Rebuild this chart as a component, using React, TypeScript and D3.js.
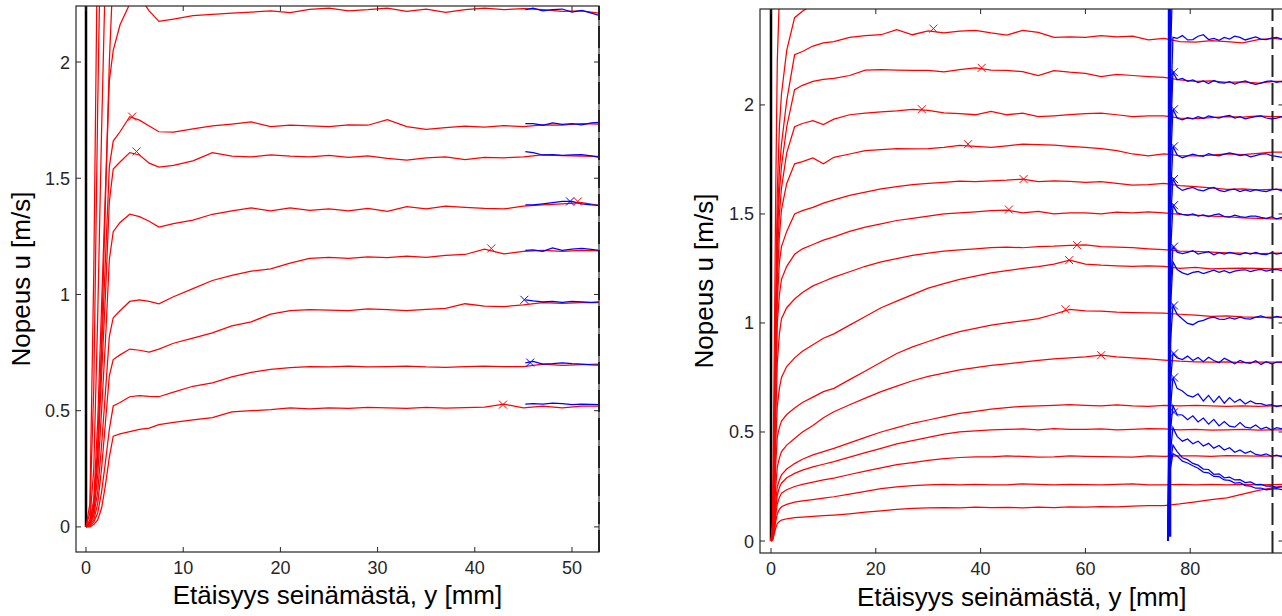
import React from "react";
import * as d3 from "d3";

// ---------------- LEFT PANEL DATA ----------------
const LX = [0, 0.4, 0.8, 1.2, 1.6, 2.0, 2.4, 2.8, 3.5, 4.5, 5.5, 6.5, 7.5, 9, 11, 13, 15, 17, 19, 21, 23, 25, 27, 29, 31, 33, 35, 37, 39, 41, 43, 45, 47, 49, 51, 52.8];
const L1 = [0, 0, 0.01, 0.03, 0.08, 0.18, 0.30, 0.39, 0.40, 0.41, 0.42, 0.425, 0.44, 0.45, 0.46, 0.47, 0.495, 0.50, 0.505, 0.512, 0.508, 0.512, 0.510, 0.514, 0.512, 0.510, 0.514, 0.511, 0.513, 0.515, 0.528, 0.512, 0.52, 0.512, 0.52, 0.52];
const L2 = [0, 0.005, 0.02, 0.06, 0.15, 0.28, 0.42, 0.52, 0.535, 0.56, 0.565, 0.562, 0.56, 0.58, 0.605, 0.62, 0.645, 0.665, 0.678, 0.685, 0.69, 0.688, 0.692, 0.688, 0.69, 0.692, 0.688, 0.686, 0.69, 0.692, 0.69, 0.69, 0.70, 0.695, 0.698, 0.70];
const L3 = [0, 0.01, 0.03, 0.10, 0.25, 0.45, 0.65, 0.72, 0.74, 0.765, 0.76, 0.752, 0.765, 0.79, 0.812, 0.835, 0.865, 0.882, 0.915, 0.93, 0.935, 0.933, 0.93, 0.938, 0.935, 0.93, 0.936, 0.94, 0.96, 0.95, 0.948, 0.955, 0.965, 0.962, 0.965, 0.965];
const L4 = [0, 0.01, 0.05, 0.15, 0.35, 0.58, 0.82, 0.90, 0.93, 0.97, 0.977, 0.97, 0.96, 0.99, 1.025, 1.06, 1.082, 1.10, 1.11, 1.135, 1.155, 1.16, 1.155, 1.162, 1.158, 1.165, 1.16, 1.168, 1.172, 1.195, 1.175, 1.185, 1.19, 1.185, 1.19, 1.188];
const L5 = [0, 0.01, 0.06, 0.22, 0.50, 0.80, 1.15, 1.27, 1.31, 1.345, 1.335, 1.315, 1.29, 1.305, 1.32, 1.345, 1.36, 1.372, 1.36, 1.372, 1.362, 1.368, 1.36, 1.37, 1.358, 1.378, 1.368, 1.38, 1.375, 1.37, 1.368, 1.38, 1.385, 1.39, 1.395, 1.383];
const L6 = [0, 0.02, 0.08, 0.30, 0.65, 1.00, 1.40, 1.54, 1.57, 1.61, 1.60, 1.565, 1.548, 1.555, 1.575, 1.61, 1.595, 1.592, 1.60, 1.595, 1.592, 1.598, 1.59, 1.596, 1.585, 1.578, 1.588, 1.592, 1.58, 1.59, 1.588, 1.592, 1.60, 1.597, 1.595, 1.594];
const L7 = [0, 0.02, 0.10, 0.35, 0.75, 1.15, 1.55, 1.66, 1.70, 1.765, 1.75, 1.725, 1.70, 1.698, 1.712, 1.725, 1.733, 1.742, 1.722, 1.728, 1.725, 1.722, 1.73, 1.728, 1.752, 1.722, 1.71, 1.718, 1.724, 1.72, 1.726, 1.722, 1.73, 1.728, 1.735, 1.733];
const L8 = [0, 0.02, 0.12, 0.45, 0.95, 1.45, 1.92, 2.05, 2.16, 2.25, 2.28, 2.22, 2.175, 2.185, 2.20, 2.205, 2.21, 2.215, 2.22, 2.212, 2.226, 2.232, 2.22, 2.225, 2.232, 2.218, 2.228, 2.214, 2.225, 2.232, 2.225, 2.23, 2.225, 2.218, 2.22, 2.21];
const L9 = [0, 0.01, 0.08, 0.3, 0.8, 1.4, 2.0, 2.4, 2.7, 2.8, 2.85, 2.85, 2.86, 2.86, 2.87, 2.87, 2.87, 2.87, 2.87, 2.87, 2.87, 2.87, 2.87, 2.87, 2.87, 2.87, 2.87, 2.87, 2.87, 2.87, 2.87, 2.87, 2.87, 2.87, 2.87, 2.87];
const L10 = [0, 0.03, 0.25, 0.9, 1.7, 2.4, 2.8, 3.0, 3.1, 3.1, 3.1, 3.1, 3.1, 3.1, 3.1, 3.1, 3.1, 3.1, 3.1, 3.1, 3.1, 3.1, 3.1, 3.1, 3.1, 3.1, 3.1, 3.1, 3.1, 3.1, 3.1, 3.1, 3.1, 3.1, 3.1, 3.1];
const L11 = [0, 0.06, 0.6, 1.8, 2.8, 3.3, 3.4, 3.4, 3.4, 3.4, 3.4, 3.4, 3.4, 3.4, 3.4, 3.4, 3.4, 3.4, 3.4, 3.4, 3.4, 3.4, 3.4, 3.4, 3.4, 3.4, 3.4, 3.4, 3.4, 3.4, 3.4, 3.4, 3.4, 3.4, 3.4, 3.4];
const L12 = [0, 0.1, 1.1, 2.6, 3.5, 3.8, 3.9, 3.9, 3.9, 3.9, 3.9, 3.9, 3.9, 3.9, 3.9, 3.9, 3.9, 3.9, 3.9, 3.9, 3.9, 3.9, 3.9, 3.9, 3.9, 3.9, 3.9, 3.9, 3.9, 3.9, 3.9, 3.9, 3.9, 3.9, 3.9, 3.9];

const LBX = [45.2, 46, 47, 48, 49, 50, 51, 52, 52.8];
const LB1 = [0.528, 0.53, 0.528, 0.532, 0.53, 0.526, 0.528, 0.527, 0.526];
const LB2 = [0.706, 0.712, 0.700, 0.702, 0.706, 0.702, 0.700, 0.697, 0.696];
const LB3 = [0.977, 0.972, 0.968, 0.97, 0.966, 0.97, 0.968, 0.966, 0.968];
const LB4 = [1.19, 1.192, 1.185, 1.20, 1.19, 1.195, 1.198, 1.194, 1.19];
const LB5 = [1.385, 1.385, 1.39, 1.395, 1.40, 1.40, 1.39, 1.385, 1.383];
const LB6 = [1.615, 1.61, 1.60, 1.602, 1.598, 1.60, 1.602, 1.596, 1.59];
const LB7 = [1.735, 1.735, 1.728, 1.738, 1.732, 1.735, 1.73, 1.738, 1.74];
const LB8 = [2.225, 2.232, 2.22, 2.225, 2.228, 2.215, 2.222, 2.21, 2.20];

const L_RED_MARKS = [[4.75, 1.765], [5.2, 1.615], [41.7, 1.198], [42.9, 0.526], [50.6, 1.40]];
const L_BLUE_MARKS = [[45.7, 0.707], [45.1, 0.977], [49.8, 1.40]];

const L_XTICKS = [0, 10, 20, 30, 40, 50];
const L_YTICKS = [0, 0.5, 1, 1.5, 2];

// ---------------- RIGHT PANEL DATA ----------------
const RX = [0, 0.3, 0.6, 0.9, 1.2, 1.6, 2, 3, 4.5, 6, 8, 10, 12, 15, 18, 21, 24, 27, 30, 33, 36, 39, 42, 45, 48, 51, 54, 57, 60, 63, 66, 69, 72, 75, 78, 81, 84, 87, 90, 93, 96, 98];
const R0 = [0, 0.1, 0.8, 1.6, 2.2, 2.5, 2.62, 2.7, 2.75, 2.78, 2.8, 2.8, 2.8, 2.8, 2.8, 2.8, 2.8, 2.8, 2.8, 2.8, 2.8, 2.8, 2.8, 2.8, 2.8, 2.8, 2.8, 2.8, 2.8, 2.8, 2.8, 2.8, 2.8, 2.8, 2.8, 2.8, 2.8, 2.8, 2.8, 2.8, 2.8, 2.8];
const R1 = [0, 0.06, 0.5, 1.1, 1.6, 1.9, 2.05, 2.25, 2.40, 2.43, 2.46, 2.48, 2.50, 2.52, 2.53, 2.53, 2.54, 2.53, 2.54, 2.55, 2.54, 2.55, 2.54, 2.55, 2.55, 2.54, 2.55, 2.55, 2.54, 2.55, 2.55, 2.54, 2.55, 2.55, 2.54, 2.55, 2.55, 2.54, 2.55, 2.55, 2.54, 2.55];
const R2 = [0, 0.05, 0.4, 0.9, 1.45, 1.7, 1.82, 2.02, 2.23, 2.245, 2.27, 2.285, 2.29, 2.31, 2.318, 2.322, 2.345, 2.322, 2.34, 2.33, 2.338, 2.342, 2.33, 2.32, 2.342, 2.333, 2.31, 2.312, 2.31, 2.318, 2.312, 2.316, 2.298, 2.305, 2.29, 2.288, 2.295, 2.29, 2.285, 2.3, 2.305, 2.3];
const R3 = [0, 0.05, 0.4, 0.9, 1.4, 1.6, 1.72, 1.9, 2.07, 2.09, 2.108, 2.117, 2.122, 2.135, 2.16, 2.162, 2.16, 2.158, 2.158, 2.152, 2.162, 2.17, 2.16, 2.158, 2.153, 2.135, 2.157, 2.15, 2.145, 2.13, 2.14, 2.135, 2.13, 2.126, 2.115, 2.108, 2.11, 2.104, 2.106, 2.1, 2.108, 2.108];
const R4 = [0, 0.04, 0.35, 0.85, 1.3, 1.5, 1.62, 1.78, 1.9, 1.915, 1.928, 1.91, 1.935, 1.955, 1.962, 1.968, 1.973, 1.98, 1.975, 1.964, 1.96, 1.955, 1.97, 1.955, 1.962, 1.946, 1.95, 1.955, 1.96, 1.962, 1.955, 1.946, 1.95, 1.95, 1.94, 1.937, 1.942, 1.946, 1.944, 1.95, 1.946, 1.946];
const R5 = [0, 0.04, 0.3, 0.8, 1.2, 1.4, 1.52, 1.64, 1.73, 1.74, 1.757, 1.73, 1.76, 1.775, 1.79, 1.795, 1.80, 1.798, 1.80, 1.805, 1.815, 1.81, 1.805, 1.812, 1.82, 1.818, 1.816, 1.81, 1.805, 1.80, 1.79, 1.775, 1.766, 1.775, 1.768, 1.766, 1.77, 1.775, 1.772, 1.778, 1.784, 1.784];
const R6 = [0, 0.03, 0.28, 0.75, 1.1, 1.28, 1.35, 1.42, 1.50, 1.515, 1.53, 1.55, 1.565, 1.585, 1.60, 1.615, 1.625, 1.635, 1.64, 1.645, 1.65, 1.648, 1.652, 1.655, 1.66, 1.648, 1.652, 1.649, 1.645, 1.648, 1.64, 1.632, 1.635, 1.64, 1.63, 1.625, 1.62, 1.613, 1.615, 1.61, 1.613, 1.613];
const R7 = [0, 0.03, 0.25, 0.7, 1.0, 1.13, 1.2, 1.26, 1.315, 1.34, 1.36, 1.38, 1.395, 1.42, 1.44, 1.455, 1.47, 1.48, 1.49, 1.50, 1.505, 1.51, 1.515, 1.518, 1.505, 1.512, 1.50, 1.505, 1.505, 1.50, 1.508, 1.505, 1.51, 1.505, 1.498, 1.495, 1.49, 1.488, 1.482, 1.48, 1.477, 1.477];
const R8 = [0, 0.03, 0.22, 0.55, 0.82, 0.95, 1.02, 1.07, 1.11, 1.14, 1.17, 1.19, 1.21, 1.235, 1.26, 1.28, 1.295, 1.31, 1.32, 1.33, 1.335, 1.34, 1.345, 1.348, 1.345, 1.35, 1.352, 1.356, 1.358, 1.35, 1.348, 1.345, 1.34, 1.336, 1.33, 1.328, 1.325, 1.322, 1.32, 1.318, 1.32, 1.32];
const R9 = [0, 0.02, 0.18, 0.45, 0.62, 0.70, 0.75, 0.80, 0.84, 0.87, 0.90, 0.93, 0.95, 0.99, 1.03, 1.07, 1.10, 1.13, 1.16, 1.18, 1.20, 1.215, 1.23, 1.24, 1.25, 1.258, 1.27, 1.288, 1.27, 1.265, 1.262, 1.26, 1.262, 1.26, 1.25, 1.255, 1.248, 1.25, 1.252, 1.25, 1.248, 1.25];
const R10 = [0, 0.02, 0.15, 0.35, 0.48, 0.52, 0.55, 0.58, 0.61, 0.635, 0.66, 0.685, 0.70, 0.74, 0.78, 0.82, 0.86, 0.89, 0.915, 0.94, 0.96, 0.975, 0.99, 1.0, 1.01, 1.02, 1.04, 1.062, 1.055, 1.054, 1.05, 1.048, 1.046, 1.045, 1.04, 1.036, 1.03, 1.032, 1.028, 1.026, 1.027, 1.027];
const R11 = [0, 0.02, 0.1, 0.25, 0.34, 0.38, 0.41, 0.44, 0.47, 0.50, 0.53, 0.565, 0.593, 0.625, 0.655, 0.685, 0.71, 0.735, 0.755, 0.77, 0.785, 0.795, 0.805, 0.812, 0.82, 0.828, 0.835, 0.84, 0.845, 0.852, 0.845, 0.84, 0.835, 0.83, 0.825, 0.822, 0.82, 0.822, 0.818, 0.82, 0.82, 0.818];
const R12 = [0, 0.01, 0.07, 0.18, 0.25, 0.28, 0.303, 0.33, 0.355, 0.375, 0.395, 0.41, 0.425, 0.45, 0.475, 0.50, 0.52, 0.54, 0.555, 0.57, 0.585, 0.595, 0.605, 0.612, 0.618, 0.62, 0.622, 0.625, 0.622, 0.62, 0.624, 0.62, 0.618, 0.622, 0.62, 0.622, 0.62, 0.618, 0.62, 0.618, 0.62, 0.62];
const R13 = [0, 0.01, 0.06, 0.15, 0.21, 0.245, 0.265, 0.29, 0.31, 0.325, 0.34, 0.352, 0.364, 0.385, 0.405, 0.425, 0.445, 0.46, 0.475, 0.49, 0.50, 0.505, 0.51, 0.512, 0.514, 0.51, 0.515, 0.512, 0.512, 0.514, 0.51, 0.512, 0.515, 0.514, 0.51, 0.512, 0.508, 0.51, 0.512, 0.508, 0.51, 0.51];
const R14 = [0, 0.01, 0.05, 0.12, 0.17, 0.2, 0.219, 0.235, 0.25, 0.26, 0.27, 0.28, 0.288, 0.305, 0.32, 0.335, 0.35, 0.36, 0.37, 0.378, 0.383, 0.386, 0.386, 0.39, 0.388, 0.385, 0.386, 0.39, 0.388, 0.387, 0.386, 0.385, 0.39, 0.388, 0.39, 0.391, 0.388, 0.392, 0.39, 0.389, 0.39, 0.391];
const R15 = [0, 0.005, 0.04, 0.09, 0.125, 0.145, 0.157, 0.168, 0.178, 0.184, 0.19, 0.197, 0.203, 0.215, 0.228, 0.24, 0.248, 0.254, 0.257, 0.26, 0.258, 0.26, 0.257, 0.258, 0.262, 0.26, 0.258, 0.26, 0.259, 0.258, 0.26, 0.262, 0.258, 0.258, 0.26, 0.258, 0.26, 0.258, 0.26, 0.258, 0.259, 0.26];
const R16 = [0, 0.005, 0.03, 0.06, 0.08, 0.09, 0.096, 0.102, 0.107, 0.11, 0.113, 0.116, 0.119, 0.125, 0.132, 0.138, 0.145, 0.15, 0.152, 0.153, 0.152, 0.155, 0.153, 0.154, 0.152, 0.155, 0.153, 0.156, 0.155, 0.158, 0.157, 0.16, 0.162, 0.162, 0.17, 0.18, 0.19, 0.198, 0.215, 0.232, 0.245, 0.252];

// thick blue wall line (second wall), then the blue profiles measured from it
const R_BLUE_WALL_X = [76.05, 76.05];
const R_BLUE_WALL_U = [0.02, 2.6];
const RBX = [75.8, 76.2, 76.7, 77.5, 78.5, 79.5, 80.5, 81.5, 82.5, 83.5, 84.5, 85.5, 86.5, 87.5, 88.5, 89.5, 90.5, 91.5, 92.5, 93.5, 94.5, 95.5, 96.5, 97.5, 98.5];
const RB1 = [0, 2.2, 2.6, 2.6, 2.6, 2.6, 2.6, 2.6, 2.6, 2.6, 2.6, 2.6, 2.6, 2.6, 2.6, 2.6, 2.6, 2.6, 2.6, 2.6, 2.6, 2.6, 2.6, 2.6, 2.6];
const RB2 = [0, 1.9, 2.31, 2.305, 2.318, 2.298, 2.30, 2.315, 2.322, 2.30, 2.305, 2.296, 2.31, 2.302, 2.315, 2.31, 2.298, 2.305, 2.312, 2.302, 2.30, 2.307, 2.31, 2.302, 2.30];
const RB3 = [0, 1.8, 2.15, 2.115, 2.122, 2.108, 2.115, 2.103, 2.11, 2.098, 2.112, 2.102, 2.1, 2.107, 2.096, 2.104, 2.11, 2.1, 2.094, 2.1, 2.108, 2.11, 2.104, 2.108, 2.1];
const RB4 = [0, 1.7, 1.98, 1.94, 1.932, 1.942, 1.936, 1.946, 1.938, 1.95, 1.944, 1.94, 1.948, 1.952, 1.94, 1.946, 1.936, 1.942, 1.946, 1.95, 1.94, 1.936, 1.94, 1.946, 1.94];
const RB5 = [0, 1.55, 1.81, 1.77, 1.758, 1.766, 1.774, 1.768, 1.764, 1.777, 1.77, 1.766, 1.774, 1.78, 1.774, 1.768, 1.772, 1.762, 1.768, 1.774, 1.776, 1.768, 1.764, 1.76, 1.77];
const RB6 = [0, 1.45, 1.66, 1.625, 1.608, 1.616, 1.622, 1.61, 1.606, 1.616, 1.622, 1.608, 1.603, 1.61, 1.614, 1.603, 1.61, 1.604, 1.612, 1.606, 1.603, 1.61, 1.614, 1.606, 1.61];
const RB7 = [0, 1.3, 1.54, 1.505, 1.498, 1.494, 1.5, 1.49, 1.496, 1.488, 1.496, 1.5, 1.488, 1.486, 1.494, 1.488, 1.484, 1.49, 1.49, 1.484, 1.48, 1.486, 1.478, 1.484, 1.48];
const RB8 = [0, 1.15, 1.35, 1.325, 1.318, 1.324, 1.332, 1.316, 1.322, 1.327, 1.313, 1.322, 1.316, 1.324, 1.318, 1.314, 1.322, 1.316, 1.324, 1.316, 1.313, 1.322, 1.316, 1.32, 1.32];
const RB9 = [0, 1.05, 1.28, 1.245, 1.23, 1.222, 1.232, 1.236, 1.226, 1.234, 1.242, 1.232, 1.24, 1.23, 1.238, 1.242, 1.244, 1.236, 1.242, 1.246, 1.238, 1.244, 1.246, 1.24, 1.24];
const RB10 = [0, 0.9, 1.08, 1.04, 1.018, 0.998, 0.992, 1.006, 1.012, 1.022, 1.027, 1.018, 1.016, 1.024, 1.018, 1.027, 1.02, 1.018, 1.027, 1.032, 1.024, 1.022, 1.03, 1.024, 1.025];
const RB11 = [0, 0.72, 0.86, 0.84, 0.832, 0.848, 0.828, 0.842, 0.822, 0.843, 0.828, 0.818, 0.838, 0.826, 0.813, 0.828, 0.818, 0.815, 0.827, 0.81, 0.822, 0.813, 0.82, 0.822, 0.815];
const RB12 = [0, 0.6, 0.75, 0.70, 0.688, 0.668, 0.66, 0.675, 0.642, 0.668, 0.636, 0.664, 0.632, 0.658, 0.636, 0.65, 0.628, 0.642, 0.63, 0.63, 0.622, 0.625, 0.616, 0.622, 0.615];
const RB13 = [0, 0.5, 0.62, 0.58, 0.578, 0.556, 0.574, 0.546, 0.564, 0.536, 0.558, 0.528, 0.548, 0.527, 0.522, 0.543, 0.522, 0.518, 0.532, 0.513, 0.522, 0.51, 0.52, 0.514, 0.51];
const RB14 = [0, 0.4, 0.52, 0.48, 0.458, 0.468, 0.446, 0.458, 0.436, 0.448, 0.426, 0.438, 0.417, 0.428, 0.407, 0.418, 0.402, 0.412, 0.397, 0.393, 0.4, 0.388, 0.394, 0.386, 0.39];
const RB15 = [0, 0.35, 0.44, 0.41, 0.382, 0.373, 0.356, 0.348, 0.33, 0.328, 0.306, 0.308, 0.29, 0.293, 0.28, 0.281, 0.268, 0.271, 0.259, 0.26, 0.252, 0.253, 0.246, 0.248, 0.245];
const RB16 = [0, 0.33, 0.40, 0.39, 0.366, 0.358, 0.345, 0.334, 0.316, 0.313, 0.296, 0.295, 0.28, 0.278, 0.266, 0.268, 0.254, 0.252, 0.242, 0.243, 0.235, 0.238, 0.24, 0.236, 0.236];

const R_RED_MARKS = [[31.0, 2.35], [40.2, 2.17], [28.8, 1.98], [37.6, 1.82], [48.2, 1.66], [45.4, 1.52], [58.4, 1.357], [56.9, 1.288], [56.2, 1.063], [63.0, 0.852]];
const R_BLUE_MARKS = [[76.9, 2.15], [76.9, 1.98], [76.9, 1.81], [76.9, 1.66], [76.9, 1.54], [76.9, 1.35], [76.9, 1.08], [76.9, 0.86], [76.9, 0.75], [76.9, 0.59]];

const R_XTICKS = [0, 20, 40, 60, 80];
const R_YTICKS = [0, 0.5, 1, 1.5, 2];

const FONT = "Arial, 'Liberation Sans', Helvetica, sans-serif";
const AXIS = "#262626";

type PanelProps = {
  id: string;
  box: { l: number; r: number; t: number; b: number };
  xd: [number, number];
  yd: [number, number];
  xTicks: number[];
  yTicks: number[];
  redX: number[];
  reds: number[][];
  blueX: number[];
  blues: number[][];
  wallX?: number[];
  wallU?: number[];
  redMarks: number[][];
  blueMarks: number[][];
  dashX: number;
  yLabelBase: number;
  xLabelBase: number;
};

function Cross({ x, y, color }: { x: number; y: number; color: string }) {
  const s = 4;
  return (
    <path
      d={`M${x - s},${y - s}L${x + s},${y + s}M${x - s},${y + s}L${x + s},${y - s}`}
      stroke={color}
      strokeWidth={1}
      fill="none"
    />
  );
}

function Panel(p: PanelProps) {
  const { box } = p;
  const xs = d3.scaleLinear().domain(p.xd).range([box.l, box.r]);
  const ys = d3.scaleLinear().domain(p.yd).range([box.b, box.t]);
  const mk = (X: number[]) =>
    d3
      .line<number>()
      .x((_, i) => xs(X[i]))
      .y((d) => ys(d));
  const redLine = mk(p.redX);
  const blueLine = mk(p.blueX);
  const tl = 5;
  const yMid = (box.t + box.b) / 2;
  const xMid = (box.l + box.r) / 2;
  return (
    <g>
      <defs>
        <clipPath id={p.id}>
          <rect x={box.l} y={box.t} width={box.r - box.l} height={box.b - box.t} />
        </clipPath>
      </defs>
      <g clipPath={`url(#${p.id})`}>
        <line x1={xs(0)} x2={xs(0)} y1={ys(0)} y2={box.t} stroke="#000" strokeWidth={2.5} />
        {p.reds.map((c, i) => (
          <path key={"r" + i} d={redLine(c.slice(0, p.redX.length)) || ""} fill="none" stroke="#ff0000" strokeWidth={1.25} />
        ))}
        {p.wallX && p.wallU ? (
          <path d={mk(p.wallX)(p.wallU) || ""} fill="none" stroke="#0000ff" strokeWidth={3.5} />
        ) : null}
        {p.blues.map((c, i) => (
          <path key={"b" + i} d={blueLine(c.slice(0, p.blueX.length)) || ""} fill="none" stroke="#0000ff" strokeWidth={1.25} />
        ))}
        {p.redMarks.map((m, i) => (
          <Cross key={"rm" + i} x={xs(m[0])} y={ys(m[1])} color="#ff0000" />
        ))}
        {p.blueMarks.map((m, i) => (
          <Cross key={"bm" + i} x={xs(m[0])} y={ys(m[1])} color="#0000ff" />
        ))}
      </g>
      <line
        x1={xs(p.dashX)}
        x2={xs(p.dashX)}
        y1={box.b}
        y2={box.t}
        stroke="#222"
        strokeWidth={2}
        strokeDasharray="22 6"
      />
      <rect x={box.l} y={box.t} width={box.r - box.l} height={box.b - box.t} fill="none" stroke={AXIS} strokeWidth={1.2} />
      {p.xTicks.map((t) => (
        <g key={"xt" + t}>
          <line x1={xs(t)} x2={xs(t)} y1={box.b} y2={box.b - tl} stroke={AXIS} />
          <line x1={xs(t)} x2={xs(t)} y1={box.t} y2={box.t + tl} stroke={AXIS} />
          <text x={xs(t)} y={box.b + 21.5} textAnchor="middle" fontFamily={FONT} fontSize={18} fill={AXIS}>
            {String(t)}
          </text>
        </g>
      ))}
      {p.yTicks.map((t) => (
        <g key={"yt" + t}>
          <line x1={box.l} x2={box.l + tl} y1={ys(t)} y2={ys(t)} stroke={AXIS} />
          <line x1={box.r} x2={box.r - tl} y1={ys(t)} y2={ys(t)} stroke={AXIS} />
          <text x={box.l - 6} y={ys(t) + 6.5} textAnchor="end" fontFamily={FONT} fontSize={18} fill={AXIS}>
            {String(t)}
          </text>
        </g>
      ))}
      <text
        transform={`translate(${p.yLabelBase},${yMid}) rotate(-90)`}
        textAnchor="middle"
        fontFamily={FONT}
        fontSize={26}
        fill="#000"
      >
        Nopeus u [m/s]
      </text>
      <text x={xMid} y={p.xLabelBase} textAnchor="middle" fontFamily={FONT} fontSize={26} fill="#000">
        Etäisyys seinämästä, y [mm]
      </text>
    </g>
  );
}

export default function App() {
  return (
    <svg width={1282} height={616} style={{ position: "absolute", left: 0, top: 0, background: "#fff" }}>
      <rect x={0} y={0} width={1282} height={616} fill="#fff" />
      <Panel
        id="clipL"
        box={{ l: 76, r: 599, t: 6, b: 552 }}
        xd={[-1.03, 52.78]}
        yd={[-0.108, 2.241]}
        xTicks={L_XTICKS}
        yTicks={L_YTICKS}
        redX={LX}
        reds={[L12, L11, L10, L9, L8, L7, L6, L5, L4, L3, L2, L1]}
        blueX={LBX}
        blues={[LB1, LB2, LB3, LB4, LB5, LB6, LB7, LB8]}
        redMarks={L_RED_MARKS}
        blueMarks={L_BLUE_MARKS}
        dashX={52.78}
        yLabelBase={30}
        xLabelBase={604}
      />
      <Panel
        id="clipR"
        box={{ l: 760, r: 1283.5, t: 9, b: 553 }}
        xd={[-2.1, 97.8]}
        yd={[-0.055, 2.44]}
        xTicks={R_XTICKS}
        yTicks={R_YTICKS}
        redX={RX}
        reds={[R0, R1, R2, R3, R4, R5, R6, R7, R8, R9, R10, R11, R12, R13, R14, R15, R16]}
        blueX={RBX}
        blues={[RB1, RB2, RB3, RB4, RB5, RB6, RB7, RB8, RB9, RB10, RB11, RB12, RB13, RB14, RB15, RB16]}
        wallX={R_BLUE_WALL_X}
        wallU={R_BLUE_WALL_U}
        redMarks={R_RED_MARKS}
        blueMarks={R_BLUE_MARKS}
        dashX={95.7}
        yLabelBase={713}
        xLabelBase={606}
      />
    </svg>
  );
}
